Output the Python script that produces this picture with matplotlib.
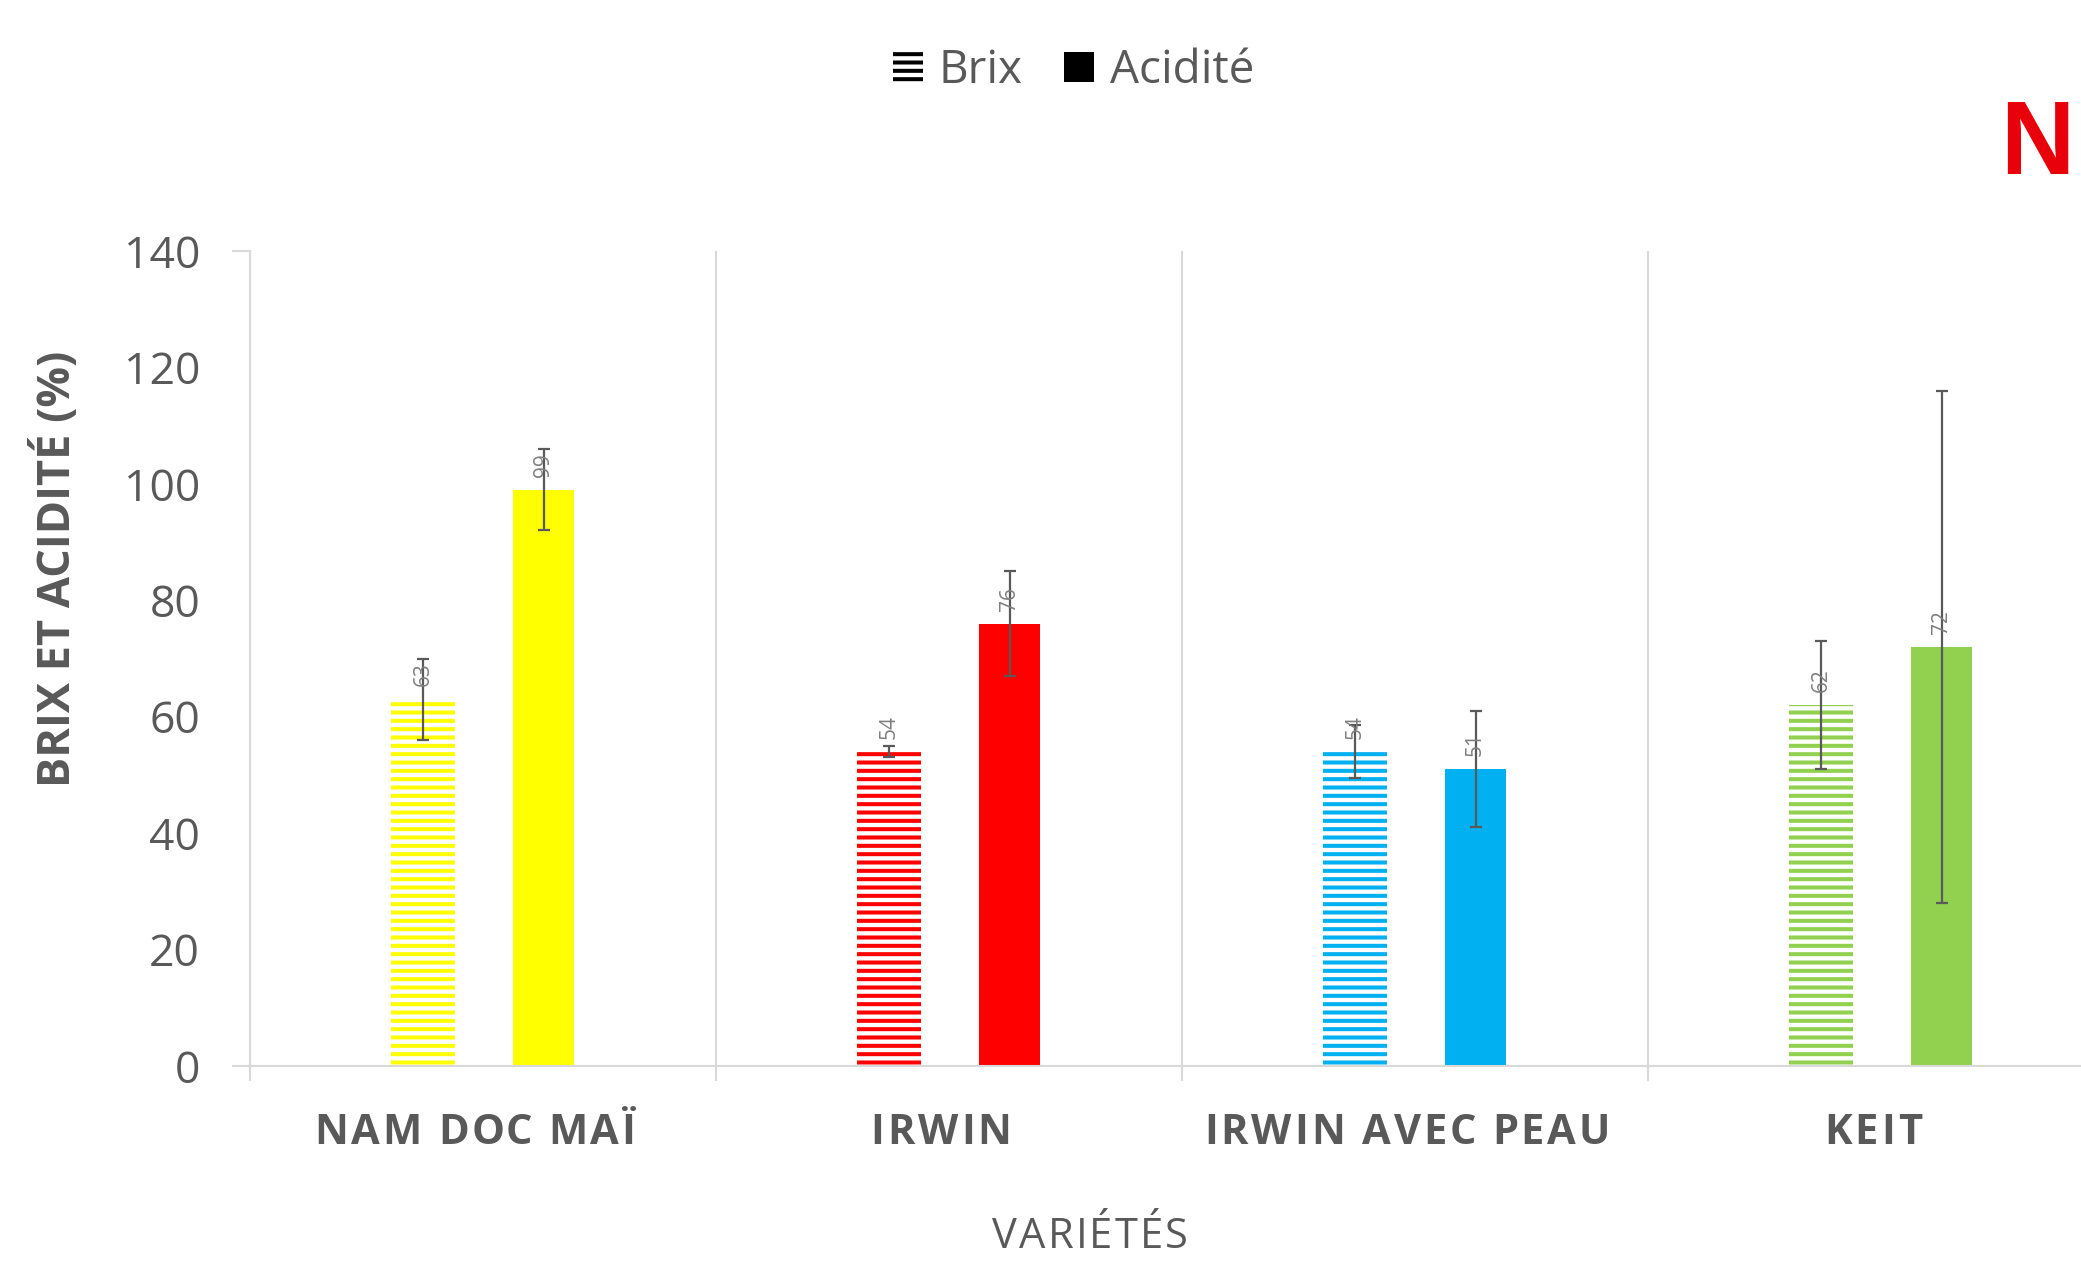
"""
Brix et acidité par variété de mangue - bar chart with error bars
"""

import matplotlib
matplotlib.use("Agg")
import matplotlib.pyplot as plt
from matplotlib.patches import Patch
from matplotlib.font_manager import FontProperties

# Data
varietes = ["NAM DOC MAÏ", "IRWIN", "IRWIN AVEC PEAU", "KEIT"]
couleurs = ["#FFFF00", "#FF0000", "#00B0F0", "#92D050"]
brix = [63, 54, 54, 62]
brix_err = [7, 1, 4.5, 11]
acidite = [99, 76, 51, 72]
acidite_err = [7, 9, 10, 44]

TXT = "#595959"
GRID = "#d9d9d9"
FONT = "Open Sans"

plt.rcParams["font.family"] = [FONT, "DejaVu Sans"]
plt.rcParams["hatch.linewidth"] = 2.9

W, H = 2081, 1270
fig = plt.figure(figsize=(W / 100, H / 100), dpi=100)
ax = fig.add_axes([250 / W, 1 - 1066 / H, 1864 / W, 815 / H])

x = list(range(len(varietes)))
x_brix = [i - 0.129 for i in x]
x_acid = [i + 0.130 for i in x]

# hatched Brix bars
ax.bar(x_brix, brix, width=0.137, facecolor="white", edgecolor=couleurs,
       linewidth=0, hatch="--", zorder=2)
# solid Acidité bars
ax.bar(x_acid, acidite, width=0.131, color=couleurs, linewidth=0, zorder=2)

ax.errorbar(x_brix, brix, yerr=brix_err, fmt="none", ecolor="#595959",
            elinewidth=1.6, capsize=4.5, capthick=1.6, zorder=3)
ax.errorbar(x_acid, acidite, yerr=acidite_err, fmt="none", ecolor="#595959",
            elinewidth=1.6, capsize=4.5, capthick=1.6, zorder=3)

# data labels, rotated
for xs, vals in [(x_brix, brix), (x_acid, acidite)]:
    for xi, v in zip(xs, vals):
        ax.annotate(f"{v}", (xi, v), xytext=(0, 18), textcoords="offset points",
                    rotation=90, ha="center", va="center", fontsize=15,
                    color="#7f7f7f", zorder=4)

ax.set_xlim(-0.5, len(varietes) - 0.5)
ax.set_ylim(0, 140)
ax.set_yticks(range(0, 141, 20))
ax.tick_params(axis="y", length=0, pad=36, labelsize=32, labelcolor=TXT)

# category separators
bounds = [i - 0.5 for i in range(len(varietes) + 1)]
ax.set_xticks(bounds, minor=True)
ax.set_xticks(x)
ax.set_xticklabels([])
ax.tick_params(axis="x", which="major", length=0)
ax.tick_params(axis="x", which="minor", length=10.8, width=1.5, color=GRID)
ax.grid(which="minor", axis="x", color=GRID, linewidth=1.5, zorder=0)

for side in ["top", "right"]:
    ax.spines[side].set_visible(False)
for side in ["left", "bottom"]:
    ax.spines[side].set_color(GRID)
    ax.spines[side].set_linewidth(1.5)

# small outside ticks at 0 and 140
tick_len = 17 / 466
for yv in [0, 140]:
    ax.plot([-0.5 - tick_len, -0.5], [yv, yv], color=GRID, lw=1.5,
            clip_on=False, zorder=1)

renderer = fig.canvas.get_renderer()


def spaced_text(cx, cy, s, spacing, size, weight="normal", color=TXT):
    """Draw letter-spaced text centred at (cx, cy) in pixels (origin bottom-left)."""
    prop = FontProperties(family=FONT, size=size, weight=weight)
    base = renderer.get_text_width_height_descent("XX", prop, ismath=False)[0]
    widths = []
    for ch in s:
        w = renderer.get_text_width_height_descent("X" + ch + "X", prop, ismath=False)[0]
        widths.append(w - base)
    total = sum(widths) + spacing * (len(s) - 1)
    xp = cx - total / 2
    for ch, w in zip(s, widths):
        if ch != " ":
            fig.text(xp / W, cy / H, ch, fontproperties=prop, color=color,
                     ha="left", va="center")
        xp += w + spacing


for i, name in enumerate(varietes):
    cx = 250 + 466 * (i + 0.5) - 8
    spaced_text(cx, H - 1133, name, 3, 30, weight="bold")

spaced_text(1090, H - 1237, "VARIÉTÉS", 2, 30)

fig.text(57 / W, 1 - 569 / H, "BRIX ET ACIDITÉ (%)", rotation=90,
         ha="center", va="center", fontsize=32.5, fontweight="bold", color=TXT)

# legend at the top
handles = [Patch(facecolor="white", edgecolor="black", linewidth=0, hatch="--"),
           Patch(facecolor="black", linewidth=0)]
fig.legend(handles, ["Brix", "Acidité"], loc="center", bbox_to_anchor=(0.516, 0.944),
           ncol=2, frameon=False, fontsize=33, labelcolor=TXT,
           handlelength=0.65, handleheight=0.6, handletextpad=0.35, columnspacing=0.9)

# red "N" cropped in the top right corner
fig.text(2037 / W, 1 - 148 / H, "N", ha="center", va="center", fontsize=74,
         fontweight="bold", color="#E8000B", family="Liberation Sans")

fig.savefig("out.png", dpi=100)
